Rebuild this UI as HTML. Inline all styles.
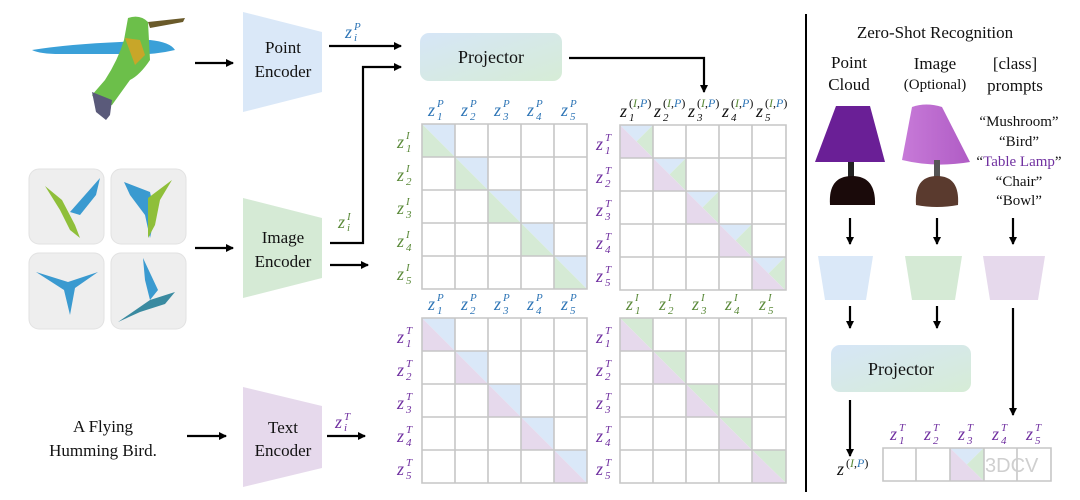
<!DOCTYPE html>
<html><head><meta charset="utf-8"><style>
html,body{margin:0;padding:0;background:#fff;}
svg{display:block;}
text{font-family:"Liberation Serif",serif;}
.z{font-style:italic;font-size:18px;}
.s{font-size:11px;font-style:italic;}
.b{fill:#2e75b6;} .g{fill:#5b8a3a;} .p{fill:#7030a0;} .k{fill:#111;}
.lbl{font-size:17px;fill:#111;text-anchor:middle;}
</style></head><body>
<svg width="1080" height="500" viewBox="0 0 1080 500" xmlns="http://www.w3.org/2000/svg">
<defs>
<marker id="ah" markerWidth="8" markerHeight="8" refX="7" refY="4" orient="auto" markerUnits="userSpaceOnUse"><path d="M0,0 L8,4 L0,8 z" fill="#000"/></marker>
<linearGradient id="pg" x1="0" y1="0" x2="1" y2="1"><stop offset="0" stop-color="#d6e6f7"/><stop offset="1" stop-color="#d6ecd6"/></linearGradient>
<linearGradient id="lg" x1="0" y1="0" x2="1" y2="0"><stop offset="0" stop-color="#c77ad8"/><stop offset="1" stop-color="#b05cc5"/></linearGradient>
</defs>

<!-- point cloud bird -->
<g>
<path d="M32,50 Q70,44 120,42 L150,40 Q170,42 175,50 Q150,56 120,54 L60,54 Q40,54 32,50z" fill="#3aa0d8"/>
<path d="M128,18 Q140,14 148,22 L150,60 Q140,75 130,80 L112,105 L100,108 L92,95 L105,80 Q118,60 124,40z" fill="#6cbf4a"/>
<path d="M148,22 L185,18 L183,22 L150,28z" fill="#6a5a2a"/>
<path d="M92,92 L112,100 L110,115 L106,120 L96,112z" fill="#5a5a7a"/>
<path d="M125,38 L140,40 L145,55 L135,65z" fill="#e0a020" opacity=".8"/>
</g>

<!-- image tiles -->
<g fill="#eeeeee" stroke="#e2e2e2">
<rect x="29" y="169" width="75" height="75" rx="10"/>
<rect x="111" y="169" width="75" height="75" rx="10"/>
<rect x="29" y="253" width="75" height="76" rx="10"/>
<rect x="111" y="253" width="75" height="76" rx="10"/>
</g>
<g>
<path d="M45,186 L62,200 L75,225 L80,238 L70,230 L60,210z" fill="#8fbf3a"/>
<path d="M70,212 L100,178 L96,195 L80,215z" fill="#3a9ad0"/>
<path d="M124,182 L150,192 L155,215 L150,238 L145,215 L130,195z" fill="#3a9ad0"/>
<path d="M148,198 L172,180 L160,200 L155,225 L148,238z" fill="#8fbf3a"/>
<path d="M36,272 L68,282 L98,272 L75,288 L70,315 L64,290z" fill="#3a9ad0"/>
<path d="M118,322 L150,300 L175,292 L165,304 L140,312z" fill="#3a8aa0"/>
<path d="M143,258 L158,290 L150,300 L145,280z" fill="#3a9ad0"/>
</g>

<!-- arrows left -->
<g stroke="#000" stroke-width="2.2" fill="none" marker-end="url(#ah)">
<line x1="195" y1="63" x2="233" y2="63"/>
<line x1="195" y1="248" x2="233" y2="248"/>
<line x1="187" y1="436" x2="226" y2="436"/>
<line x1="329" y1="46" x2="401" y2="46"/>
<polyline points="330,243 363,243 363,67 401,67"/>
<line x1="330" y1="265" x2="368" y2="265"/>
<line x1="327" y1="436" x2="365" y2="436"/>
<polyline points="569,58 704,58 704,92"/>
</g>

<!-- encoders -->
<polygon points="243,12 322,32 322,92 243,112" fill="#dae8f8"/>
<polygon points="243,198 322,218 322,278 243,298" fill="#d5ead5"/>
<polygon points="243,387 322,406 322,468 243,487" fill="#e6d9ec"/>
<text class="lbl" x="283" y="53">Point</text><text class="lbl" x="283" y="77">Encoder</text>
<text class="lbl" x="283" y="243">Image</text><text class="lbl" x="283" y="267">Encoder</text>
<text class="lbl" x="283" y="433">Text</text><text class="lbl" x="283" y="456">Encoder</text>
<text class="lbl" x="103" y="432">A Flying</text><text class="lbl" x="103" y="456">Humming Bird.</text>

<!-- encoder output labels -->
<text class="z b" x="345" y="38">z</text><text class="s b" x="354" y="30">P</text><text class="s b" x="354" y="41">i</text>
<text class="z g" x="338" y="228">z</text><text class="s g" x="347" y="220">I</text><text class="s g" x="347" y="231">i</text>
<text class="z p" x="335" y="428">z</text><text class="s p" x="344" y="420">T</text><text class="s p" x="344" y="431">i</text>

<!-- projector -->
<rect x="420" y="33" width="142" height="48" rx="9" fill="url(#pg)"/>
<text class="lbl" x="491" y="63" style="font-size:18px">Projector</text>

<!-- diagonal fills -->
<g>
<!-- TL: blue upper-right, green lower-left -->
<g fill="#dae8f8"><polygon points="422,124 455,124 455,157"/><polygon points="455,157 488,157 488,190"/><polygon points="488,190 521,190 521,223"/><polygon points="521,223 554,223 554,256"/><polygon points="554,256 587,256 587,289"/></g>
<g fill="#d5ead5"><polygon points="422,124 422,157 455,157"/><polygon points="455,157 455,190 488,190"/><polygon points="488,190 488,223 521,223"/><polygon points="521,223 521,256 554,256"/><polygon points="554,256 554,289 587,289"/></g>
<!-- BL: blue / purple -->
<g fill="#dae8f8"><polygon points="422,318 455,318 455,351"/><polygon points="455,351 488,351 488,384"/><polygon points="488,384 521,384 521,417"/><polygon points="521,417 554,417 554,450"/><polygon points="554,450 587,450 587,483"/></g>
<g fill="#e6d9ec"><polygon points="422,318 422,351 455,351"/><polygon points="455,351 455,384 488,384"/><polygon points="488,384 488,417 521,417"/><polygon points="521,417 521,450 554,450"/><polygon points="554,450 554,483 587,483"/></g>
<!-- BR: green / purple -->
<g fill="#d5ead5"><polygon points="620,318 653,318 653,351"/><polygon points="653,351 686,351 686,384"/><polygon points="686,384 719,384 719,417"/><polygon points="719,417 752,417 752,450"/><polygon points="752,450 786,450 786,483"/></g>
<g fill="#e6d9ec"><polygon points="620,318 620,351 653,351"/><polygon points="653,351 653,384 686,384"/><polygon points="686,384 686,417 719,417"/><polygon points="719,417 719,450 752,450"/><polygon points="752,450 752,483 786,483"/></g>
<!-- TR: blue top, green right, purple lower-left -->
<g id="tri3">
<polygon points="0,0 33,0 16.5,16.5" fill="#dae8f8"/><polygon points="33,0 33,33 16.5,16.5" fill="#d5ead5"/><polygon points="0,0 0,33 33,33" fill="#e6d9ec"/>
</g>
</g>
<use href="#tri3" transform="translate(620,125)"/>
<use href="#tri3" transform="translate(653,158)"/>
<use href="#tri3" transform="translate(686,191)"/>
<use href="#tri3" transform="translate(719,224)"/>
<use href="#tri3" transform="translate(752,257)"/>
<!-- the original tri3 drawn at 0,0 is hidden under white below -->
<rect x="0" y="0" width="34" height="34" fill="#fff"/>

<!-- grids -->
<g stroke="#c6c6c6" stroke-width="1.6" fill="none">
<path d="M422,124h165v165h-165z M455,124v165 M488,124v165 M521,124v165 M554,124v165 M422,157h165 M422,190h165 M422,223h165 M422,256h165"/>
<path d="M620,125h166v165h-166z M653,125v165 M686,125v165 M719,125v165 M752,125v165 M620,158h166 M620,191h166 M620,224h166 M620,257h166"/>
<path d="M422,318h165v165h-165z M455,318v165 M488,318v165 M521,318v165 M554,318v165 M422,351h165 M422,384h165 M422,417h165 M422,450h165"/>
<path d="M620,318h166v165h-166z M653,318v165 M686,318v165 M719,318v165 M752,318v165 M620,351h166 M620,384h166 M620,417h166 M620,450h166"/>
</g>

<!-- TL column labels zP -->
<g class="b">
<text class="z" x="428" y="116">z</text><text class="s" x="437" y="107">P</text><text class="s" x="437" y="120">1</text>
<text class="z" x="461" y="116">z</text><text class="s" x="470" y="107">P</text><text class="s" x="470" y="120">2</text>
<text class="z" x="494" y="116">z</text><text class="s" x="503" y="107">P</text><text class="s" x="503" y="120">3</text>
<text class="z" x="527" y="116">z</text><text class="s" x="536" y="107">P</text><text class="s" x="536" y="120">4</text>
<text class="z" x="561" y="116">z</text><text class="s" x="570" y="107">P</text><text class="s" x="570" y="120">5</text>
<text class="z" x="428" y="310">z</text><text class="s" x="437" y="301">P</text><text class="s" x="437" y="314">1</text>
<text class="z" x="461" y="310">z</text><text class="s" x="470" y="301">P</text><text class="s" x="470" y="314">2</text>
<text class="z" x="494" y="310">z</text><text class="s" x="503" y="301">P</text><text class="s" x="503" y="314">3</text>
<text class="z" x="527" y="310">z</text><text class="s" x="536" y="301">P</text><text class="s" x="536" y="314">4</text>
<text class="z" x="561" y="310">z</text><text class="s" x="570" y="301">P</text><text class="s" x="570" y="314">5</text>
</g>
<!-- TL row labels zI -->
<g class="g">
<text class="z" x="397" y="148">z</text><text class="s" x="406" y="139">I</text><text class="s" x="406" y="152">1</text>
<text class="z" x="397" y="181">z</text><text class="s" x="406" y="172">I</text><text class="s" x="406" y="185">2</text>
<text class="z" x="397" y="214">z</text><text class="s" x="406" y="205">I</text><text class="s" x="406" y="218">3</text>
<text class="z" x="397" y="247">z</text><text class="s" x="406" y="238">I</text><text class="s" x="406" y="251">4</text>
<text class="z" x="397" y="280">z</text><text class="s" x="406" y="271">I</text><text class="s" x="406" y="284">5</text>
<text class="z" x="626" y="310">z</text><text class="s" x="635" y="301">I</text><text class="s" x="635" y="314">1</text>
<text class="z" x="659" y="310">z</text><text class="s" x="668" y="301">I</text><text class="s" x="668" y="314">2</text>
<text class="z" x="692" y="310">z</text><text class="s" x="701" y="301">I</text><text class="s" x="701" y="314">3</text>
<text class="z" x="725" y="310">z</text><text class="s" x="734" y="301">I</text><text class="s" x="734" y="314">4</text>
<text class="z" x="759" y="310">z</text><text class="s" x="768" y="301">I</text><text class="s" x="768" y="314">5</text>
</g>
<!-- row labels zT -->
<g class="p">
<text class="z" x="596" y="150">z</text><text class="s" x="605" y="141">T</text><text class="s" x="605" y="154">1</text>
<text class="z" x="596" y="183">z</text><text class="s" x="605" y="174">T</text><text class="s" x="605" y="187">2</text>
<text class="z" x="596" y="216">z</text><text class="s" x="605" y="207">T</text><text class="s" x="605" y="220">3</text>
<text class="z" x="596" y="249">z</text><text class="s" x="605" y="240">T</text><text class="s" x="605" y="253">4</text>
<text class="z" x="596" y="282">z</text><text class="s" x="605" y="273">T</text><text class="s" x="605" y="286">5</text>
<text class="z" x="397" y="343">z</text><text class="s" x="406" y="334">T</text><text class="s" x="406" y="347">1</text>
<text class="z" x="397" y="376">z</text><text class="s" x="406" y="367">T</text><text class="s" x="406" y="380">2</text>
<text class="z" x="397" y="409">z</text><text class="s" x="406" y="400">T</text><text class="s" x="406" y="413">3</text>
<text class="z" x="397" y="442">z</text><text class="s" x="406" y="433">T</text><text class="s" x="406" y="446">4</text>
<text class="z" x="397" y="475">z</text><text class="s" x="406" y="466">T</text><text class="s" x="406" y="479">5</text>
<text class="z" x="596" y="343">z</text><text class="s" x="605" y="334">T</text><text class="s" x="605" y="347">1</text>
<text class="z" x="596" y="376">z</text><text class="s" x="605" y="367">T</text><text class="s" x="605" y="380">2</text>
<text class="z" x="596" y="409">z</text><text class="s" x="605" y="400">T</text><text class="s" x="605" y="413">3</text>
<text class="z" x="596" y="442">z</text><text class="s" x="605" y="433">T</text><text class="s" x="605" y="446">4</text>
<text class="z" x="596" y="475">z</text><text class="s" x="605" y="466">T</text><text class="s" x="605" y="479">5</text>
</g>
<!-- TR column labels z(I,P) -->
<g style="font-size:11px">
<text class="z k" x="620" y="117">z</text><text class="s k" x="629" y="121">1</text><text x="629" y="107" class="k" style="font-size:12px">(<tspan class="g" font-style="italic">I</tspan>,<tspan class="b" font-style="italic">P</tspan>)</text>
<text class="z k" x="654" y="117">z</text><text class="s k" x="663" y="121">2</text><text x="663" y="107" class="k" style="font-size:12px">(<tspan class="g" font-style="italic">I</tspan>,<tspan class="b" font-style="italic">P</tspan>)</text>
<text class="z k" x="688" y="117">z</text><text class="s k" x="697" y="121">3</text><text x="697" y="107" class="k" style="font-size:12px">(<tspan class="g" font-style="italic">I</tspan>,<tspan class="b" font-style="italic">P</tspan>)</text>
<text class="z k" x="722" y="117">z</text><text class="s k" x="731" y="121">4</text><text x="731" y="107" class="k" style="font-size:12px">(<tspan class="g" font-style="italic">I</tspan>,<tspan class="b" font-style="italic">P</tspan>)</text>
<text class="z k" x="756" y="117">z</text><text class="s k" x="765" y="121">5</text><text x="765" y="107" class="k" style="font-size:12px">(<tspan class="g" font-style="italic">I</tspan>,<tspan class="b" font-style="italic">P</tspan>)</text>
</g>

<!-- divider -->
<line x1="806" y1="14" x2="806" y2="492" stroke="#000" stroke-width="2"/>

<!-- right panel -->
<text class="lbl" x="935" y="38" style="font-size:17px">Zero-Shot Recognition</text>
<text class="lbl" x="849" y="68">Point</text><text class="lbl" x="849" y="90">Cloud</text>
<text class="lbl" x="935" y="69">Image</text><text class="lbl" x="935" y="89" style="font-size:15px">(Optional)</text>
<text class="lbl" x="1015" y="69">[class]</text><text class="lbl" x="1015" y="91">prompts</text>
<g class="lbl" style="font-size:15px">
<text class="lbl" x="1019" y="126" style="font-size:15px">“Mushroom”</text>
<text class="lbl" x="1019" y="146" style="font-size:15px">“Bird”</text>
<text class="lbl" x="1019" y="166" style="font-size:15px">“<tspan fill="#7030a0">Table Lamp</tspan>”</text>
<text class="lbl" x="1019" y="186" style="font-size:15px">“Chair”</text>
<text class="lbl" x="1019" y="205" style="font-size:15px">“Bowl”</text>
</g>

<!-- lamps -->
<polygon points="836,106 870,106 885,162 815,162" fill="#6a1f96"/>
<rect x="848" y="162" width="6" height="16" fill="#222"/>
<path d="M830,205 Q828,176 852,176 Q876,176 875,205z" fill="#1a0a0a"/>
<path d="M912,107 Q926,102 942,107 L970,162 Q935,168 902,160z" fill="url(#lg)"/>
<rect x="934" y="160" width="6" height="18" fill="#555"/>
<path d="M916,205 Q914,176 937,176 Q960,176 958,205 Q937,209 916,205z" fill="#5a3a2e"/>

<g stroke="#000" stroke-width="2.2" fill="none" marker-end="url(#ah)">
<line x1="850" y1="218" x2="850" y2="244"/>
<line x1="937" y1="218" x2="937" y2="244"/>
<line x1="1013" y1="218" x2="1013" y2="244"/>
<line x1="850" y1="306" x2="850" y2="328"/>
<line x1="937" y1="306" x2="937" y2="328"/>
<line x1="1013" y1="308" x2="1013" y2="415"/>
<line x1="850" y1="400" x2="850" y2="456"/>
</g>
<polygon points="818,256 873,256 866,300 825,300" fill="#dae8f8"/>
<polygon points="905,256 962,256 955,300 912,300" fill="#d5ead5"/>
<polygon points="983,256 1045,256 1038,300 990,300" fill="#e6d9ec"/>
<rect x="831" y="345" width="140" height="47" rx="9" fill="url(#pg)"/>
<text class="lbl" x="901" y="375" style="font-size:18px">Projector</text>

<text class="z k" x="837" y="475">z</text><text x="846" y="467" class="k" style="font-size:12px">(<tspan class="g" font-style="italic">I</tspan>,<tspan class="b" font-style="italic">P</tspan>)</text>

<use href="#tri3" transform="translate(950,448) scale(1.02,1.0)"/>
<g stroke="#c6c6c6" stroke-width="1.6" fill="none">
<path d="M883,448h168v33h-168z M916,448v33 M950,448v33 M984,448v33 M1017,448v33"/>
</g>
<g class="p">
<text class="z" x="890" y="440">z</text><text class="s" x="899" y="431">T</text><text class="s" x="899" y="444">1</text>
<text class="z" x="924" y="440">z</text><text class="s" x="933" y="431">T</text><text class="s" x="933" y="444">2</text>
<text class="z" x="958" y="440">z</text><text class="s" x="967" y="431">T</text><text class="s" x="967" y="444">3</text>
<text class="z" x="992" y="440">z</text><text class="s" x="1001" y="431">T</text><text class="s" x="1001" y="444">4</text>
<text class="z" x="1026" y="440">z</text><text class="s" x="1035" y="431">T</text><text class="s" x="1035" y="444">5</text>
</g>
<text x="985" y="472" style="font-family:'Liberation Sans',sans-serif;font-size:20px;fill:#cfcfcf">3DCV</text>
</svg>
</body></html>
